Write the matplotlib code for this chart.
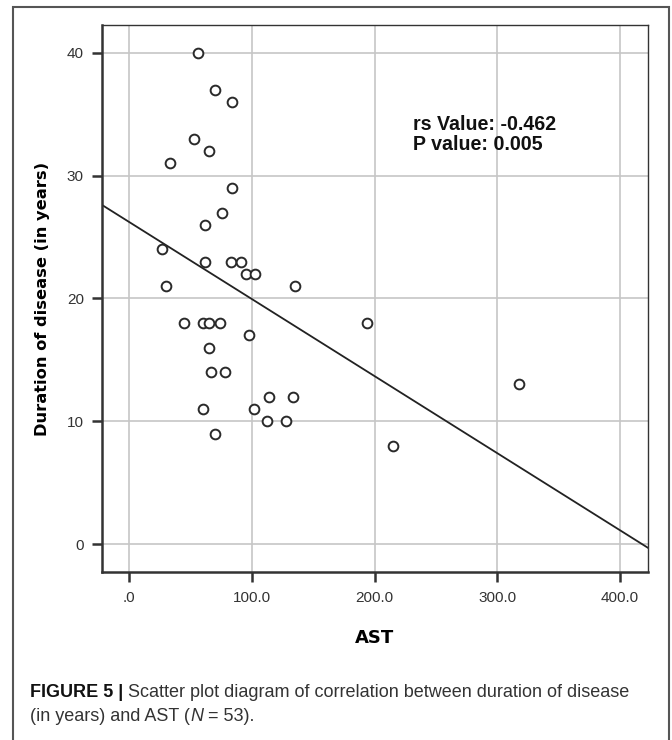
import matplotlib
matplotlib.use("Agg")
import matplotlib.pyplot as plt
from matplotlib.patches import Rectangle
import numpy as np

# DATA

ast = [56, 70, 84, 53, 65, 33, 84, 76, 62, 27, 62, 83, 91, 95, 103, 135, 30,
       45, 60, 65, 74, 98, 65.5, 67, 78, 60, 70, 102, 114, 134, 112.5, 128,
       318, 215, 194]
duration = [40, 37, 36, 33, 32, 31, 29, 27, 26, 24, 23, 23, 23, 22, 22, 21, 21,
            18, 18, 18, 18, 17, 16, 14, 14, 11, 9, 11, 12, 12, 10, 10,
            13, 8, 18]

fit_intercept = 26.24
fit_slope = -0.0628

x_ticks = [0, 100, 200, 300, 400]
x_tick_labels = [".0", "100.0", "200.0", "300.0", "400.0"]
y_ticks = [0, 10, 20, 30, 40]
y_tick_labels = ["0", "10", "20", "30", "40"]

stat_text = "rs Value: -0.462\nP value: 0.005"

# FIGURE

fig = plt.figure(figsize=(6.72, 7.40), dpi=100)
ax = fig.add_axes([102/672, 1-572/740, (648-102)/672, (572-25)/740])

xlim = (-22, 422.8)
ylim = (-2.28, 42.28)

ax.grid(True, color="#c6c6c6", linewidth=1.2, zorder=0)
ax.set_axisbelow(True)

fx = np.array(xlim)
ax.plot(fx, fit_intercept + fit_slope * fx, color="#222222", linewidth=1.3, zorder=2)

ax.plot(ast, duration, linestyle="none", marker="o", markersize=7,
        markerfacecolor="white", markeredgecolor="#2a2a2a",
        markeredgewidth=1.4, zorder=3)

ax.set_xlim(xlim)
ax.set_ylim(ylim)
ax.set_xticks(x_ticks)
ax.set_xticklabels(x_tick_labels)
ax.set_yticks(y_ticks)
ax.set_yticklabels(y_tick_labels)

for s in ax.spines.values():
    s.set_color("#333333")
    s.set_linewidth(1.0)
ax.spines["left"].set_linewidth(1.8)
ax.spines["bottom"].set_linewidth(1.8)

ax.tick_params(direction="out", length=7, width=1.8, color="#333333",
               labelsize=11, labelcolor="#333333", pad=6)
for lab in ax.get_xticklabels() + ax.get_yticklabels():
    lab.set_family("Liberation Sans")
ax.tick_params(axis="x", pad=7)

ax.set_xlabel("AST", fontsize=13, fontweight="bold", family="DejaVu Sans",
              labelpad=17)
ax.set_ylabel("Duration of disease (in years)", fontsize=11.7, fontweight="bold",
              family="DejaVu Sans", labelpad=12)

ax.text(413/672, 1-115/740, stat_text, transform=fig.transFigure,
        fontsize=14.1, fontweight="bold", family="Liberation Sans",
        va="top", ha="left", linespacing=1.1, color="#111111")

# outer frame
fig.patches.append(Rectangle((13/672, -0.05), (669-13)/672, 1-7/740+0.05,
                             transform=fig.transFigure, fill=False,
                             edgecolor="#555555", linewidth=1.5))

# CAPTION (pieces chained with the renderer)

def chain(pieces, x, y):
    fig.canvas.draw()
    r = fig.canvas.get_renderer()
    for txt, kw in pieces:
        opts = dict(fontsize=13, family="Liberation Sans", color="#333333",
                    va="baseline")
        opts.update(kw)
        t = fig.text(x, y, txt, **opts)
        bb = t.get_window_extent(renderer=r)
        x = bb.x1 / fig.bbox.width

chain([("FIGURE 5 | ", dict(fontweight="bold", color="#111111")),
       ("Scatter plot diagram of correlation between duration of disease", {})],
      30/672, 1-697/740)
chain([("(in years) and AST (", {}),
       ("N", dict(style="italic")),
       (" = 53).", {})],
      30/672, 1-721/740)

fig.savefig("out.png", dpi=100)
